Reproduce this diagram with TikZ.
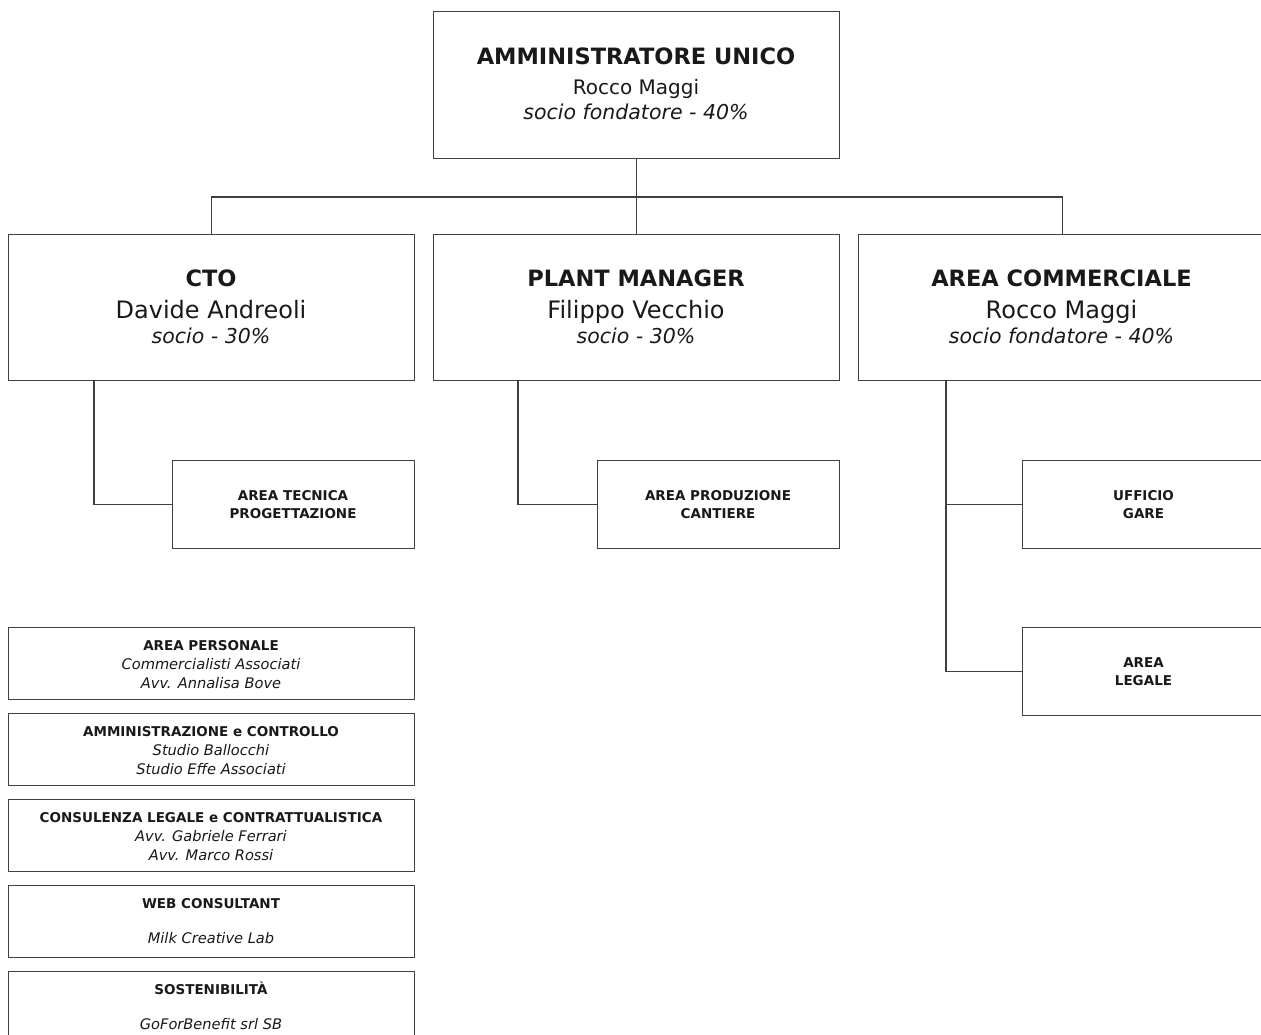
\documentclass[tikz,border=0pt]{standalone}
\usepackage{fontspec}
\setmainfont{DejaVu Sans}
\begin{document}
\begin{tikzpicture}[x=1pt,y=-1pt,
  box/.style={draw=black!75, line width=1.1pt, fill=white, inner sep=0pt, anchor=north west},
  conn/.style={draw=black!75, line width=1.1pt},
  bighead/.style={font=\bfseries\fontsize{22.5}{25}\selectfont, anchor=base, text=black!90, inner sep=0pt},
  bigname/.style={font=\fontsize{24}{26}\selectfont, anchor=base, text=black!90, inner sep=0pt},
  bigital/.style={font=\itshape\fontsize{20.5}{22}\selectfont, anchor=base, text=black!90, inner sep=0pt},
  smhead/.style={font=\bfseries\fontsize{13.5}{15}\selectfont, anchor=base, text=black!90, inner sep=0pt},
  smital/.style={font=\itshape\fontsize{14.6}{16}\selectfont, anchor=base, text=black!90, inner sep=0pt}]
\useasboundingbox (0,0) rectangle (1261,1035);
\clip (0,0) rectangle (1261,1035);
% level 1
\node[box, minimum width=406pt, minimum height=147pt] (top) at (433,11) {};
\node[bighead] (topt) at (636,65) {AMMINISTRATORE UNICO};
\node[bigname, font=\fontsize{20}{22}\selectfont] (topn) at (636,95) {Rocco Maggi};
\node[bigital] (topi) at (636,120) {socio fondatore - 40\%};
% level 2
\node[box, minimum width=406pt, minimum height=146pt] (cto) at (8,234) {};
\node[box, minimum width=406pt, minimum height=146pt] (pm) at (433,234) {};
\node[box, minimum width=407pt, minimum height=146pt] (ac) at (858,234) {};
\node[bighead] (ctot) at (211,287) {CTO};
\node[bigname] (cton) at (211,318) {Davide Andreoli};
\node[bigital] (ctoi) at (211,343) {socio - 30\%};
\node[bighead] (pmt) at (636,287) {PLANT MANAGER};
\node[bigname] (pmn) at (636,318) {Filippo Vecchio};
\node[bigital] (pmi) at (636,343) {socio - 30\%};
\node[bighead] (act) at (1061.5,287) {AREA COMMERCIALE};
\node[bigname] (acn) at (1061.5,318) {Rocco Maggi};
\node[bigital] (aci) at (1061.5,343) {socio fondatore - 40\%};
% level 3
\node[box, minimum width=242pt, minimum height=88pt] (at) at (172,460) {};
\node[smhead] (at1) at (293,500) {AREA TECNICA};
\node[smhead] (at2) at (293,518) {PROGETTAZIONE};
\node[box, minimum width=242pt, minimum height=88pt] (ap) at (597,460) {};
\node[smhead] (ap1) at (718,500) {AREA PRODUZIONE};
\node[smhead] (ap2) at (718,518) {CANTIERE};
\node[box, minimum width=243pt, minimum height=88pt] (ug) at (1022,460) {};
\node[smhead] (ug1) at (1143.5,500) {UFFICIO};
\node[smhead] (ug2) at (1143.5,518) {GARE};
\node[box, minimum width=243pt, minimum height=88pt] (al) at (1022,627) {};
\node[smhead] (al1) at (1143.5,667) {AREA};
\node[smhead] (al2) at (1143.5,685) {LEGALE};
% left stack
\node[box, minimum width=406pt, minimum height=72pt] (s1) at (8,627) {};
\node[smhead] (s1a) at (211,650) {AREA PERSONALE};
\node[smital] (s1b) at (211,669) {Commercialisti Associati};
\node[smital] (s1c) at (211,688) {Avv. Annalisa Bove};
\node[box, minimum width=406pt, minimum height=72pt] (s2) at (8,713) {};
\node[smhead] (s2a) at (211,736) {AMMINISTRAZIONE e CONTROLLO};
\node[smital] (s2b) at (211,755) {Studio Ballocchi};
\node[smital] (s2c) at (211,774) {Studio Effe Associati};
\node[box, minimum width=406pt, minimum height=72pt] (s3) at (8,799) {};
\node[smhead] (s3a) at (211,822) {CONSULENZA LEGALE e CONTRATTUALISTICA};
\node[smital] (s3b) at (211,841) {Avv. Gabriele Ferrari};
\node[smital] (s3c) at (211,860) {Avv. Marco Rossi};
\node[box, minimum width=406pt, minimum height=72pt] (s4) at (8,885) {};
\node[smhead] (s4a) at (211,908) {WEB CONSULTANT};
\node[smital] (s4b) at (211,943) {Milk Creative Lab};
\node[box, minimum width=406pt, minimum height=72pt] (s5) at (8,971) {};
\node[smhead] (s5a) at (211,994) {SOSTENIBILITÀ};
\node[smital] (s5b) at (211,1029) {GoForBenefit srl SB};
% connectors
\coordinate (bus) at (top.south |- 0,197);
\draw[conn] (top.south) -- (pm.north);
\draw[conn] (cto.north) |- (bus) -| (ac.north);
\coordinate (ctod) at ([xshift=86pt]cto.south west);
\coordinate (pmd) at ([xshift=85pt]pm.south west);
\coordinate (acd) at ([xshift=88pt]ac.south west);
\draw[conn] (ctod) |- (at.west);
\draw[conn] (pmd) |- (ap.west);
\draw[conn] (acd) |- (al.west);
\draw[conn] (acd |- ug.west) -- (ug.west);
\end{tikzpicture}
\end{document}
